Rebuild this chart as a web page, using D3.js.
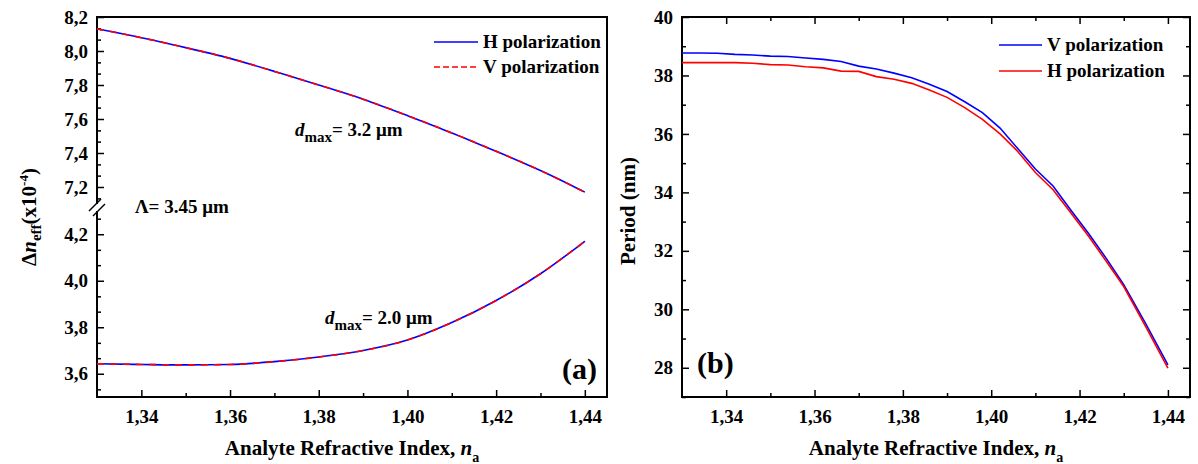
<!DOCTYPE html>
<html>
<head>
<meta charset="utf-8">
<script src="https://cdn.jsdelivr.net/npm/d3@7"></script>
<style>
  body { margin: 0; background: #fff; }
  svg text { font-family: "Liberation Serif", "Times New Roman", Times, "DejaVu Serif", serif; font-weight: bold; }
  .axis text { font-size: 19px; fill: #000; }
  .axis line { stroke: #000; stroke-width: 1.5; }
  .title { font-size: 21px; }
  .note { font-size: 19px; }
</style>
</head>
<body>
<div id="chart"></div>
<script>
// ---- data ----
const nIndex = [1.33, 1.34, 1.35, 1.36, 1.37, 1.38, 1.39, 1.40, 1.41, 1.42, 1.43, 1.44];
// d_max = 3.2 um (upper branch), x10^-4
const dn32H = [8.13, 8.08, 8.02, 7.96, 7.88, 7.80, 7.72, 7.62, 7.52, 7.41, 7.30, 7.17];
const dn32V = [8.13, 8.08, 8.02, 7.96, 7.88, 7.80, 7.72, 7.62, 7.52, 7.41, 7.30, 7.17];
// d_max = 2.0 um (lower branch)
const dn20H = [3.643, 3.640, 3.638, 3.640, 3.652, 3.672, 3.700, 3.745, 3.820, 3.915, 4.030, 4.170];
const dn20V = [3.643, 3.640, 3.638, 3.640, 3.652, 3.672, 3.700, 3.745, 3.820, 3.915, 4.030, 4.170];

// panel (b): period in nm
const nPeriod = [1.330, 1.334, 1.338, 1.342, 1.346, 1.350, 1.354, 1.358, 1.362, 1.366, 1.370, 1.374, 1.378,
                 1.382, 1.386, 1.390, 1.394, 1.398, 1.402, 1.406, 1.410, 1.414, 1.418, 1.422, 1.426, 1.430, 1.435, 1.440];
const periodV = [38.77, 38.77, 38.76, 38.72, 38.70, 38.66, 38.65, 38.60, 38.55, 38.48, 38.32, 38.22, 38.08,
                 37.92, 37.70, 37.45, 37.10, 36.73, 36.20, 35.50, 34.80, 34.22, 33.40, 32.60, 31.75, 30.84, 29.50, 28.10];
const periodH = [38.44, 38.44, 38.44, 38.44, 38.42, 38.37, 38.36, 38.30, 38.26, 38.15, 38.14, 37.96, 37.87,
                 37.73, 37.50, 37.25, 36.90, 36.50, 36.00, 35.40, 34.68, 34.09, 33.30, 32.51, 31.65, 30.78, 29.40, 27.99];

// ticks
const xMajor = [1.34, 1.36, 1.38, 1.40, 1.42, 1.44];
const xMinor = [1.35, 1.37, 1.39, 1.41, 1.43];
const yUpMajor = [7.2, 7.4, 7.6, 7.8, 8.0, 8.2];
const yUpMinor = [7.133, 7.267, 7.333, 7.467, 7.533, 7.667, 7.733, 7.867, 7.933, 8.067, 8.133];
const yLowMajor = [3.6, 3.8, 4.0, 4.2];
const yLowMinor = [3.533, 3.667, 3.733, 3.867, 3.933, 4.067, 4.133, 4.267];
const pMajor = [28, 30, 32, 34, 36, 38, 40];
const pMinor = [27, 29, 31, 33, 35, 37, 39];

const W = 1198, H = 464;
const BLUE = "#0000ff", RED = "#ff0000";

const svg = d3.select("#chart")
    .append("svg")
    .attr("width", W)
    .attr("height", H);

const comma = p => d => d3.format(p)(d).replace(".", ",");

// inward ticks helper
function ticks(axis, values, size, fmt, pad) {
    return axis.tickValues(values).tickSizeInner(-size).tickSizeOuter(0)
        .tickPadding(pad || 0).tickFormat(fmt || "");
}
function addAxis(transform, axis) {
    svg.append("g")
        .attr("class", "axis")
        .attr("transform", transform)
        .call(axis)
        .call(g => g.select(".domain").remove());
}

// ================= panel (a) =================
const a = { left: 97, right: 607, top: 17, bottom: 397, breakTop: 204, breakBottom: 211 };
const xA = d3.scaleLinear().domain([1.33, 1.445]).range([a.left, a.right]);
const yUp = d3.scaleLinear().domain([7.1, 8.2]).range([a.breakTop, a.top]);
const yLow = d3.scaleLinear().domain([3.5, 4.3]).range([a.bottom, a.breakBottom]);

addAxis(`translate(0,${a.bottom})`, ticks(d3.axisBottom(xA), xMajor, 7, comma(".2f"), 13));
addAxis(`translate(0,${a.bottom})`, ticks(d3.axisBottom(xA), xMinor, 4));
addAxis(`translate(${a.left},0)`, ticks(d3.axisLeft(yUp), yUpMajor, 7, comma(".1f"), 9));
addAxis(`translate(${a.left},0)`, ticks(d3.axisLeft(yUp), yUpMinor, 4));
addAxis(`translate(${a.left},0)`, ticks(d3.axisLeft(yLow), yLowMajor, 7, comma(".1f"), 9));
addAxis(`translate(${a.left},0)`, ticks(d3.axisLeft(yLow), yLowMinor, 4));

// frame with broken left axis
svg.append("path")
    .attr("d", `M${a.left},${a.breakTop}V${a.top}H${a.right}V${a.bottom}H${a.left}V${a.breakBottom}`)
    .attr("fill", "none").attr("stroke", "#000").attr("stroke-width", 2);
// break marks
svg.append("line").attr("x1", 89).attr("y1", 211).attr("x2", 101).attr("y2", 199)
    .attr("stroke", "#000").attr("stroke-width", 1.5);
svg.append("line").attr("x1", 93).attr("y1", 216).attr("x2", 105).attr("y2", 204)
    .attr("stroke", "#000").attr("stroke-width", 1.5);

const lineUp = d3.line().x((d, i) => xA(nIndex[i])).y(d => yUp(d)).curve(d3.curveBasis);
const lineLow = d3.line().x((d, i) => xA(nIndex[i])).y(d => yLow(d)).curve(d3.curveMonotoneX);

[[dn32H, lineUp], [dn20H, lineLow]].forEach(([s, l]) => {
    svg.append("path").attr("d", l(s)).attr("fill", "none")
        .attr("stroke", BLUE).attr("stroke-width", 1.6);
});
[[dn32V, lineUp], [dn20V, lineLow]].forEach(([s, l]) => {
    svg.append("path").attr("d", l(s)).attr("fill", "none")
        .attr("stroke", RED).attr("stroke-width", 1.6).attr("stroke-dasharray", "7,6");
});

// legend (a)
svg.append("line").attr("x1", 434).attr("x2", 478).attr("y1", 42).attr("y2", 42)
    .attr("stroke", BLUE).attr("stroke-width", 1.6);
svg.append("line").attr("x1", 434).attr("x2", 478).attr("y1", 67).attr("y2", 67)
    .attr("stroke", RED).attr("stroke-width", 1.6).attr("stroke-dasharray", "6,3");
svg.append("text").attr("class", "note").attr("x", 483).attr("y", 48).text("H polarization");
svg.append("text").attr("class", "note").attr("x", 483).attr("y", 73).text("V polarization");

// annotations (a)
function dmax(x, y, txt) {
    const t = svg.append("text").attr("class", "note").attr("x", x).attr("y", y);
    t.append("tspan").attr("font-style", "italic").text("d");
    t.append("tspan").attr("font-size", 15).attr("dy", 6).text("max");
    t.append("tspan").attr("dy", -6).text(txt);
}
dmax(295, 136, "= 3.2 μm");
dmax(325, 324, "= 2.0 μm");
svg.append("text").attr("class", "note").attr("x", 135).attr("y", 213).text("Λ= 3.45 μm");
svg.append("text").attr("x", 562).attr("y", 379).style("font-size", "30px").text("(a)");

// axis titles (a)
const yTitleA = svg.append("text").attr("class", "title")
    .attr("text-anchor", "middle")
    .attr("transform", "translate(36,217) rotate(-90)");
yTitleA.append("tspan").text("Δ");
yTitleA.append("tspan").attr("font-style", "italic").text("n");
yTitleA.append("tspan").attr("font-size", 15).attr("dy", 5).text("eff");
yTitleA.append("tspan").attr("dy", -5).text("(x10");
yTitleA.append("tspan").attr("font-size", 13).attr("dy", -8).text("-4");
yTitleA.append("tspan").attr("dy", 8).text(")");

function xTitle(cx) {
    const t = svg.append("text").attr("class", "title").attr("text-anchor", "middle")
        .attr("x", cx).attr("y", 455);
    t.append("tspan").text("Analyte Refractive Index, ");
    t.append("tspan").attr("font-style", "italic").text("n");
    t.append("tspan").attr("font-size", 14).attr("dy", 7).text("a");
}
xTitle((a.left + a.right) / 2);

// ================= panel (b) =================
const b = { left: 682, right: 1190, top: 17, bottom: 397 };
const xB = d3.scaleLinear().domain([1.33, 1.445]).range([b.left, b.right]);
const yB = d3.scaleLinear().domain([27, 40]).range([b.bottom, b.top]);

addAxis(`translate(0,${b.bottom})`, ticks(d3.axisBottom(xB), xMajor, 7, comma(".2f"), 13));
addAxis(`translate(0,${b.bottom})`, ticks(d3.axisBottom(xB), xMinor, 4));
addAxis(`translate(0,${b.top})`, ticks(d3.axisTop(xB), xMajor, 7));
addAxis(`translate(0,${b.top})`, ticks(d3.axisTop(xB), xMinor, 4));
addAxis(`translate(${b.left},0)`, ticks(d3.axisLeft(yB), pMajor, 7, d3.format("d"), 9));
addAxis(`translate(${b.left},0)`, ticks(d3.axisLeft(yB), pMinor, 4));
addAxis(`translate(${b.right},0)`, ticks(d3.axisRight(yB), pMajor, 7));
addAxis(`translate(${b.right},0)`, ticks(d3.axisRight(yB), pMinor, 4));

svg.append("rect")
    .attr("x", b.left).attr("y", b.top)
    .attr("width", b.right - b.left).attr("height", b.bottom - b.top)
    .attr("fill", "none").attr("stroke", "#000").attr("stroke-width", 2);

const lineB = d3.line().x((d, i) => xB(nPeriod[i])).y(d => yB(d));
svg.append("path").attr("d", lineB(periodV)).attr("fill", "none")
    .attr("stroke", BLUE).attr("stroke-width", 1.6);
svg.append("path").attr("d", lineB(periodH)).attr("fill", "none")
    .attr("stroke", RED).attr("stroke-width", 1.6);

// legend (b)
svg.append("line").attr("x1", 999).attr("x2", 1042).attr("y1", 45).attr("y2", 45)
    .attr("stroke", BLUE).attr("stroke-width", 1.6);
svg.append("line").attr("x1", 999).attr("x2", 1042).attr("y1", 71).attr("y2", 71)
    .attr("stroke", RED).attr("stroke-width", 1.6);
svg.append("text").attr("class", "note").attr("x", 1047).attr("y", 51).text("V polarization");
svg.append("text").attr("class", "note").attr("x", 1047).attr("y", 77).text("H polarization");

svg.append("text").attr("x", 697).attr("y", 373).style("font-size", "30px").text("(b)");

svg.append("text").attr("class", "title").attr("text-anchor", "middle")
    .attr("transform", "translate(635,211) rotate(-90)")
    .text("Period (nm)");
xTitle((b.left + b.right) / 2);
</script>
</body>
</html>
